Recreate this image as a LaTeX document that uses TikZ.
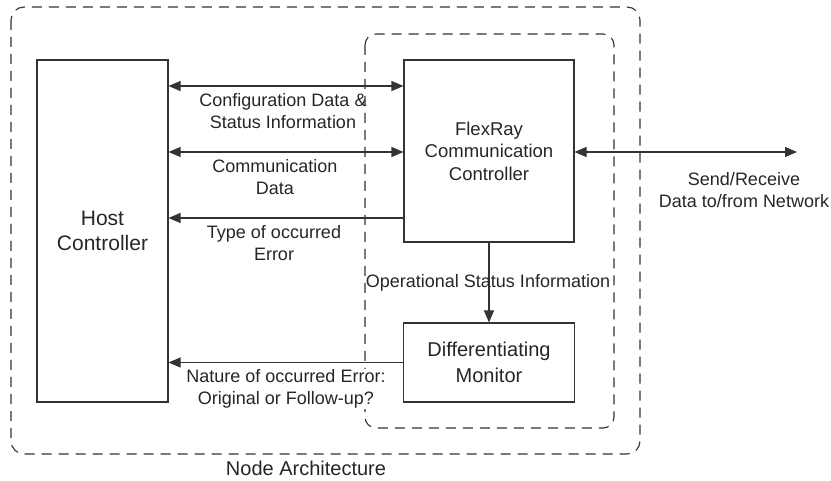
\documentclass[tikz,border=0pt]{standalone}
\usepackage{fontspec}
\setmainfont{Liberation Sans}
\usetikzlibrary{arrows.meta}
\begin{document}
\begin{tikzpicture}[x=1pt,y=-1pt,
  every node/.style={text=black!85},
  >={Triangle[length=12pt,width=10pt]},
  box/.style={draw=black!80,line width=1.1pt,inner sep=0pt,align=center},
  lbl/.style={inner sep=0pt,align=center,font=\fontsize{18}{22}\selectfont},
  frame/.style={draw=black!80,line width=1.1pt,dash pattern=on 10pt off 7pt},
  conn/.style={draw=black!80,line width=1.1pt}]
\useasboundingbox (0,0) rectangle (831,481);
% dashed frames
\draw[frame,rounded corners=13pt] (11,7) rectangle (640,454);
\draw[frame,rounded corners=11pt] (365,34) rectangle (614,428);
% boxes
\node[box,minimum width=131pt,minimum height=342pt,font=\fontsize{21}{25}\selectfont] (host) at (102.5,231) {Host\\Controller};
\node[box,fill=white,minimum width=170pt,minimum height=182pt,font=\fontsize{18.5}{22.5}\selectfont] (flex) at (489,151) {FlexRay\\Communication\\Controller};
\node[box,fill=white,minimum width=171pt,minimum height=79pt,font=\fontsize{20}{26}\selectfont] (diff) at (489,362.5) {Differentiating\\Monitor};
% helper coordinates
\coordinate (y1) at (0,86);
\coordinate (y2) at (0,152);
\coordinate (y3) at (0,218);
\coordinate (net) at (797,152);
% connectors
\draw[conn,<->] (host.east |- y1) -- (flex.west |- y1);
\draw[conn,<->] (host.east |- y2) -- (flex.west |- y2);
\draw[conn,->] (flex.west |- y3) -- (host.east |- y3);
\draw[conn,<->] (flex.east |- net) -- (net);
\draw[conn,->] (flex.south) -- (diff.north);
% labels
\node[lbl] (l1) at (283,111) {Configuration Data \&\\Status Information};
\node[lbl] (l2) at (275,177) {Communication\\Data};
\node[lbl] (l3) at (274,243) {Type of occurred\\Error};
\node[lbl] (l4) at (488,283) {Operational Status Information};
\node[lbl] (l6) at (744,190) {Send/Receive\\Data to/from Network};
\node[lbl,fill=white,inner sep=1pt] (l5) at (286,389) {Nature of occurred Error:\\Original or Follow-up?};
\draw[conn,->] (diff.west) -- (host.east |- diff.west);
\node[inner sep=0pt,font=\fontsize{20}{24}\selectfont] (arch) at (306,468) {Node Architecture};
\end{tikzpicture}
\end{document}
